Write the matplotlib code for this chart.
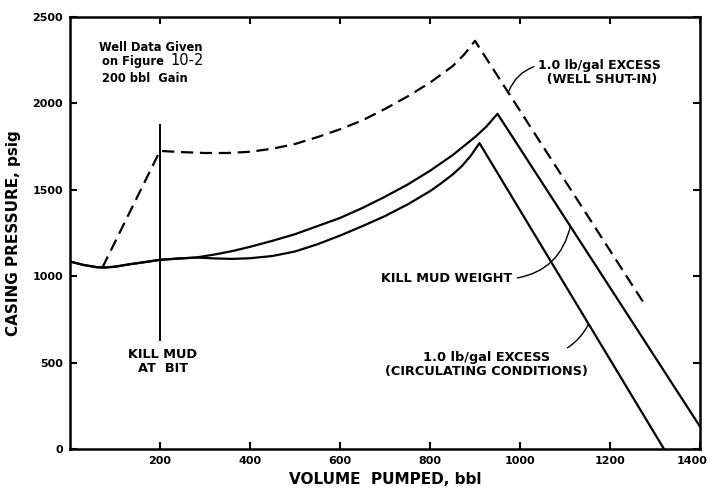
import matplotlib
matplotlib.use("Agg")
import matplotlib.pyplot as plt
import matplotlib.transforms as mtransforms

# -----------------------------
# Data (volume in bbl, casing pressure in psig)
# -----------------------------
# part shared by both solid curves before they split
common_vol = [0, 30, 60, 75, 100, 130, 170, 200, 240, 280]
common_psi = [1085, 1065, 1052, 1050, 1055, 1068, 1083, 1095, 1102, 1108]

# kill mud weight (upper solid curve)
kill_vol = [320, 360, 400, 450, 500, 550, 600, 650, 700, 750, 800, 850, 900, 925, 950, 1400]
kill_psi = [1125, 1145, 1170, 1205, 1243, 1290, 1337, 1395, 1460, 1530, 1610, 1700, 1805, 1865, 1940, 130]

# 1.0 lb/gal excess, circulating conditions (lower solid curve)
circ_vol = [320, 360, 400, 450, 500, 550, 600, 650, 700, 750, 800, 825, 850, 870, 890, 910, 1320]
circ_psi = [1103, 1100, 1104, 1117, 1143, 1185, 1235, 1290, 1348, 1415, 1492, 1538, 1588, 1635, 1695, 1770, 0]

# 1.0 lb/gal excess, well shut-in (dashed curve)
shut_vol = [72, 200, 250, 300, 350, 400, 450, 500, 550, 600, 650, 700, 750, 800, 850, 875, 900, 1280]
shut_psi = [1050, 1725, 1718, 1713, 1713, 1720, 1738, 1765, 1805, 1850, 1902, 1968, 2040, 2120, 2215, 2280, 2362, 825]

# kill mud at bit marker
bit_vol = [200, 200]
bit_psi = [630, 1875]

x_ticks = [200, 400, 600, 800, 1000, 1200, 1400]
y_ticks = [0, 500, 1000, 1500, 2000, 2500]

# -----------------------------
# Plot
# -----------------------------
plt.rcParams["font.family"] = "DejaVu Sans"
plt.rcParams["font.weight"] = "bold"

fig = plt.figure(figsize=(7.11, 4.93), dpi=100)
ax = fig.add_axes([70 / 711, 1 - 449 / 493, 630 / 711, 432 / 493])

lw = 1.6
ax.plot(common_vol + kill_vol, common_psi + kill_psi, color="black", lw=lw)
ax.plot(common_vol + circ_vol, common_psi + circ_psi, color="black", lw=lw)
ax.plot(shut_vol, shut_psi, color="black", lw=lw, linestyle=(0, (5.5, 3)))
ax.plot(bit_vol, bit_psi, color="black", lw=1.4)

ax.set_xlim(0, 1400)
ax.set_ylim(0, 2500)
ax.set_xticks(x_ticks)
ax.set_yticks(y_ticks)
ax.tick_params(direction="in", length=5, width=1.5, top=True, right=True,
               labelsize=8, pad=5)
for s in ax.spines.values():
    s.set_linewidth(1.8)

# last x label sits against the right edge, nudge it left a little
last = ax.get_xticklabels()[-1]
last.set_transform(last.get_transform() +
                   mtransforms.ScaledTranslation(-6 / 72, 0, fig.dpi_scale_trans))

ax.set_xlabel("VOLUME  PUMPED, bbl", fontsize=11, fontweight="bold", labelpad=4)
ax.set_ylabel("CASING PRESSURE, psig", fontsize=11, fontweight="bold", labelpad=8)

# notes
ax.text(64, 2325, "Well Data Given", fontsize=8.3, va="center", ha="left")
ax.text(70, 2240, "on Figure", fontsize=8.3, va="center", ha="left")
ax.text(224, 2250, "10-2", fontsize=10.5, fontweight="normal", va="center", ha="left")
ax.text(70, 2145, "200 bbl  Gain", fontsize=8.3, va="center", ha="left")

ax.text(206, 505, "KILL MUD\nAT  BIT", fontsize=9.3, ha="center", va="center",
        linespacing=1.15)

ax.annotate("1.0 lb/gal EXCESS\n  (WELL SHUT-IN)", xy=(975, 2070), xytext=(1040, 2180),
            fontsize=9, ha="left", va="center", linespacing=1.15,
            arrowprops=dict(arrowstyle="-", color="black", lw=1.0,
                            shrinkA=1, shrinkB=0, relpos=(0.0, 0.75),
                            connectionstyle="arc3,rad=0.25"))

ax.annotate("KILL MUD WEIGHT", xy=(1112, 1290), xytext=(836, 985),
            fontsize=9.3, ha="center", va="center",
            arrowprops=dict(arrowstyle="-", color="black", lw=1.0,
                            shrinkA=2, shrinkB=0, relpos=(1.0, 0.5),
                            connectionstyle="arc3,rad=0.35"))

ax.annotate("1.0 lb/gal EXCESS\n(CIRCULATING CONDITIONS)", xy=(1152, 720), xytext=(925, 490),
            fontsize=9.3, ha="center", va="center", linespacing=1.15,
            arrowprops=dict(arrowstyle="-", color="black", lw=1.0,
                            shrinkA=0, shrinkB=0, relpos=(0.78, 0.78),
                            connectionstyle="arc3,rad=0.25"))

fig.savefig("out.png", dpi=100)
